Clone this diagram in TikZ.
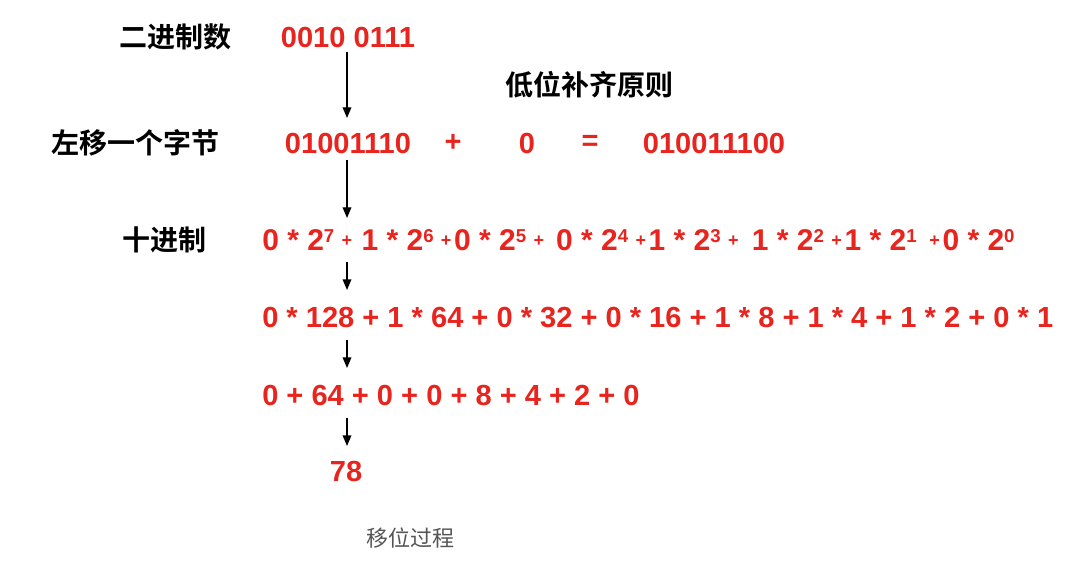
\documentclass[tikz,border=0pt]{standalone}
\usepackage{fontspec}
\setmainfont{Liberation Sans}
\newfontfamily\cjkb{Noto Sans CJK SC Bold}
\newfontfamily\cjk{Noto Sans CJK SC}
\usetikzlibrary{arrows.meta}
\definecolor{numred}{RGB}{232,36,30}
\definecolor{capgray}{RGB}{85,85,85}
\newcommand\mysq[1]{\raisebox{6.1pt}{\fontsize{14pt}{14pt}\selectfont #1}}
\newcommand\myplus{\hspace{5.5pt}\raisebox{3pt}{\fontsize{13.5pt}{13.5pt}\selectfont +}}
\tikzset{
  lbl/.style={font=\cjkb\fontsize{21pt}{21pt}\selectfont, text=black, inner sep=0pt},
  num/.style={font=\bfseries\fontsize{21.8pt}{21.8pt}\selectfont, text=numred, inner sep=0pt},
  numbig/.style={font=\bfseries\fontsize{22.5pt}{22.5pt}\selectfont, text=numred, inner sep=0pt},
  arr/.style={draw=black, line width=1pt, -{Triangle[length=8pt,width=6.5pt]}},
  capt/.style={font=\cjk\fontsize{16.5pt}{16.5pt}\selectfont, text=capgray, inner sep=0pt}
}
\begin{document}
\begin{tikzpicture}[x=0.75pt,y=-0.75pt]
\useasboundingbox (0,0) rectangle (1080,570);
% row 1
\node[lbl] (l1) at (175,37) {二进制数};
\node[num] (b1) at (348,37) {0010 0111};
% annotation
\node[lbl] (note) at (589,85) {低位补齐原则};
% row 2
\node[lbl] (l2) at (135,143) {左移一个字节};
\node[num] (b2) at (348,143) {01001110};
\node[num] (plus) at (453,143) {+};
\node[num] (zero) at (527,143) {0};
\node[num] (eq) at (590,143) {=};
\node[num] (b3) at (714,143) {010011100};
% row 3
\node[lbl] (l3) at (164,240) {十进制};
\node[numbig, anchor=west] (e1) at (262,240) {0 * 2\mysq{7}\myplus\hspace{7pt}1 * 2\mysq{6}\myplus\hspace{2pt}0 * 2\mysq{5}\myplus\hspace{9pt}0 * 2\mysq{4}\myplus\hspace{2pt}1 * 2\mysq{3}\myplus\hspace{10pt}1 * 2\mysq{2}\myplus\hspace{2pt}1 * 2\mysq{1}\hspace{4pt}\myplus\hspace{2pt}0 * 2\mysq{0}};
% row 4
\node[num, anchor=west] (e2) at (262,318) {0 * 128 + 1 * 64 + 0 * 32 + 0 * 16 + 1 * 8 + 1 * 4 + 1 * 2 + 0 * 1};
% row 5
\node[num, anchor=west] (e3) at (262,395) {0 + 64 + 0 + 0 + 8 + 4 + 2 + 0};
% result
\node[num] (res) at (346,471) {78};
% caption
\node[capt] (cap) at (410,538) {移位过程};
% arrows
\coordinate (a1s) at (347,52);  \coordinate (a1e) at (347,118);
\coordinate (a2s) at (347,160); \coordinate (a2e) at (347,218);
\coordinate (a3s) at (347,262); \coordinate (a3e) at (347,290);
\coordinate (a4s) at (347,340); \coordinate (a4e) at (347,368);
\coordinate (a5s) at (347,418); \coordinate (a5e) at (347,446);
\draw[arr] (a1s) -- (a1e);
\draw[arr] (a2s) -- (a2e);
\draw[arr] (a3s) -- (a3e);
\draw[arr] (a4s) -- (a4e);
\draw[arr] (a5s) -- (a5e);
\end{tikzpicture}
\end{document}
